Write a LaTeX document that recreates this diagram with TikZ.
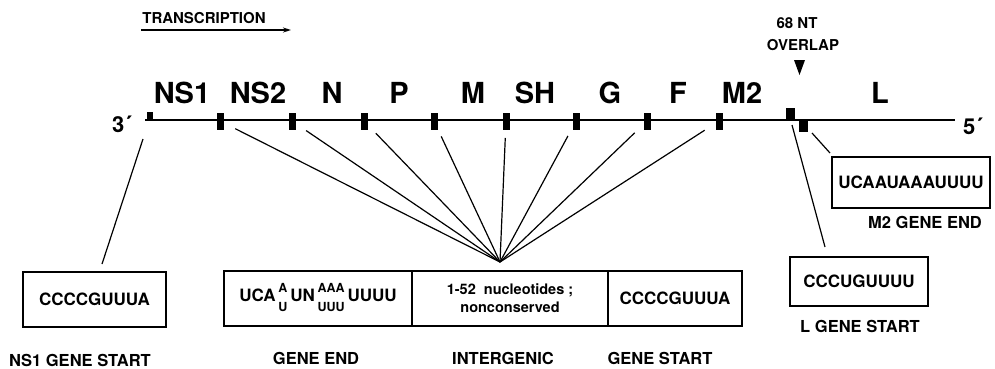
\documentclass[tikz,border=0pt]{standalone}
\usepackage{fontspec}
\setmainfont{TeX Gyre Heros}
\usetikzlibrary{arrows.meta}
\newcommand\stk[2]{{\fontsize{12.5}{19}\selectfont\renewcommand\arraystretch{1}\setlength\tabcolsep{0pt}\begin{tabular}[c]{c}#1\\#2\end{tabular}}}
\begin{document}
\begin{tikzpicture}[x=1pt,y=-1pt,
  lbl/.style={font=\fontsize{16.5}{16.5}\selectfont\bfseries, inner sep=0pt},
  small/.style={font=\fontsize{15}{15}\selectfont\bfseries, inner sep=0pt},
  gene/.style={font=\fontsize{29}{29}\selectfont\bfseries, anchor=base, inner sep=0pt},
  endlbl/.style={font=\fontsize{22}{22}\selectfont\bfseries, inner sep=0pt},
  mk/.style={fill=black, draw=none, inner sep=0pt, minimum width=7pt, minimum height=17pt},
  seq/.style={draw, line width=1.1pt, font=\fontsize{17}{17}\selectfont\bfseries, minimum height=55pt, inner sep=0pt},
  conn/.style={line width=1.2pt}]
\useasboundingbox (0,0) rectangle (995,368);
% transcription
\node[small] (tr) at (204,18) {TRANSCRIPTION};
\coordinate (trA) at (141,30);
\coordinate (trB) at (291,30);
\draw[line width=1.5pt, -{Stealth[length=8pt,width=5pt]}] (trA) -- (trB);
% main line
\coordinate (L3) at (145,120);
\coordinate (L5) at (955,120);
\draw[line width=1.4pt] (L3) -- (L5);
\node[endlbl] (t3) at (122,124) {3´};
\node[endlbl] (t5) at (973,126) {5´};
% gene labels
\node[gene] (gNSa) at (182,103) {NS1};
\node[gene] (gNSb) at (258,103) {NS2};
\node[gene] (gN) at (332,103) {N};
\node[gene] (gP) at (399,103) {P};
\node[gene] (gM) at (473,103) {M};
\node[gene] (gSH) at (535,103) {SH};
\node[gene] (gG) at (610,103) {G};
\node[gene] (gF) at (678,103) {F};
\node[gene] (gMb) at (742,103) {M2};
\node[gene] (gL) at (880,103) {L};
% markers
\node[mk, minimum width=6pt, minimum height=8pt] (m1) at (150,116) {};
\node[mk] (m2) at (220,121) {};
\node[mk] (m3) at (292,121) {};
\node[mk] (m4) at (364,121) {};
\node[mk] (m5) at (434,121) {};
\node[mk] (m6) at (506,121) {};
\node[mk] (m7) at (576,121) {};
\node[mk] (m8) at (647,121) {};
\node[mk] (m9) at (719,121) {};
\node[mk, minimum width=9pt, minimum height=12pt] (mA) at (790.5,113.5) {};
\node[mk, minimum width=9pt, minimum height=12pt] (mB) at (803,125.5) {};
% overlap
\node[small] (ovA) at (797,23) {68 NT};
\node[small] (ovB) at (803,45) {OVERLAP};
\fill (794,60) -- (805,60) -- (799.5,75) -- cycle;
% fan
\coordinate (F) at (500,262);
\foreach \m in {m2,m3,m4,m5,m6,m7,m8,m9}
  \draw[conn, shorten <=17pt] (\m.center) -- (F);
% boxes
\node[seq, minimum width=143pt] (ns1box) at (94.5,299.5) {CCCCGUUUA};
\node[seq, minimum width=188pt] (gend) at (318,298.5) {UCA\,\stk{A}{U}\,UN\,\stk{AAA}{UUU}\,UUUU};
\node[seq, minimum width=196pt, font=\fontsize{14.5}{18}\selectfont\bfseries, align=center] (inter) at (510,298.5) {1-52 \ nucleotides ;\\nonconserved};
\node[seq, minimum width=134pt] (gstart) at (675,298.5) {CCCCGUUUA};
\node[seq, minimum width=158pt, minimum height=51pt] (m2box) at (911,182.5) {UCAAUAAAUUUU};
\node[seq, minimum width=138pt, minimum height=49pt] (lbox) at (859,281.5) {CCCUGUUUU};
% connectors to boxes
\coordinate (ns1a) at (143,139);
\coordinate (ns1b) at (102,264);
\draw[conn] (ns1a) -- (ns1b);
\coordinate (la) at (792,125);
\coordinate (lb) at (825,247);
\draw[conn] (la) -- (lb);
\coordinate (ma) at (812,133);
\coordinate (mb) at (830,153);
\draw[conn] (ma) -- (mb);
% labels
\node[lbl] (ns1lbl) at (80,360) {NS1 GENE START};
\node[lbl] (gelbl) at (316,358) {GENE END};
\node[lbl] (iglbl) at (503,358) {INTERGENIC};
\node[lbl] (gslbl) at (660,358) {GENE START};
\node[lbl] (lslbl) at (860,326) {L GENE START};
\node[lbl] (melbl) at (925,222) {M2 GENE END};
\end{tikzpicture}
\end{document}
